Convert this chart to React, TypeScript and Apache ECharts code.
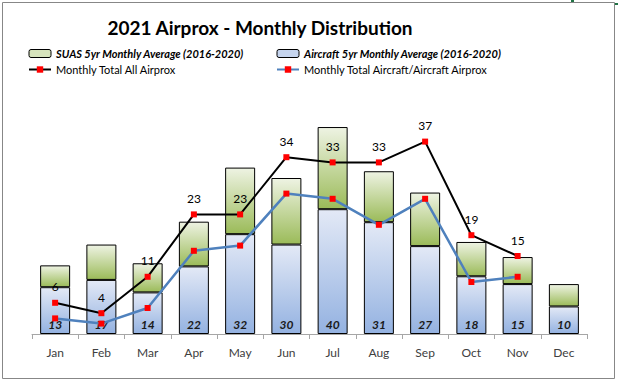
import React, { useEffect, useRef } from "react";
import * as echarts from "echarts";

const months = ["Jan", "Feb", "Mar", "Apr", "May", "Jun", "Jul", "Aug", "Sep", "Oct", "Nov", "Dec"];
const aircraftAvg = [9, 10.4, 8, 13, 19.2, 17.2, 24, 21.5, 16.9, 11.1, 9.6, 5.3];
const suasAvg = [4.2, 6.8, 5.6, 8.6, 12.8, 12.8, 15.8, 9.8, 10.3, 6.6, 5.2, 4.3];
const totalAll = [6, 4, 11, 23, 23, 34, 33, 33, 37, 19, 15, null];
const totalAircraft = [3, 2, 5, 16, 17, 27, 26, 21, 26, 10, 11, null];

const FONT = "Lato";
const SUAS_NAME = "SUAS 5yr Monthly Average (2016-2020)";
const AC_NAME = "Aircraft 5yr Monthly Average (2016-2020)";
const ALL_NAME = "Monthly Total All Airprox";
const ACAC_NAME = "Monthly Total Aircraft/Aircraft Airprox";

const greenGrad = new echarts.graphic.LinearGradient(0, 0, 0, 1, [
  { offset: 0, color: "#eef3e3" },
  { offset: 1, color: "#9bbb59" },
]);
const blueGrad = new echarts.graphic.LinearGradient(0, 0, 0, 1, [
  { offset: 0, color: "#e3e9f6" },
  { offset: 1, color: "#94b2e1" },
]);

export default function App() {
  const ref = useRef<HTMLDivElement>(null);
  useEffect(() => {
    const chart = echarts.init(ref.current!, undefined, { renderer: "svg" });
    const legendText = { fontFamily: FONT, fontSize: 11, color: "#000" };
    const barLegendText = { ...legendText, fontStyle: "italic", fontWeight: "bold" };
    chart.setOption({
      animation: false,
      textStyle: { fontFamily: FONT },
      graphic: [
        {
          type: "rect",
          shape: { x: 2.5, y: 2.5, width: 612, height: 376 },
          style: { fill: "none", stroke: "#878787", lineWidth: 1 },
          silent: true,
        },
        {
          type: "rect",
          shape: { x: 571, y: 0, width: 3, height: 2 },
          style: { fill: "#217346" },
          silent: true,
        },
        {
          type: "rect",
          shape: { x: 615, y: 3, width: 3, height: 2 },
          style: { fill: "#217346" },
          silent: true,
        },
        {
          type: "text",
          x: 260,
          y: 27,
          style: {
            text: "2021 Airprox - Monthly Distribution",
            fontFamily: FONT,
            fontWeight: "bold",
            fontSize: 19,
            fill: "#000",
            textAlign: "center",
            textVerticalAlign: "middle",
          },
        },
      ],
      legend: [
        {
          orient: "vertical",
          left: 28,
          top: 48,
          padding: 0,
          itemWidth: 22,
          itemHeight: 8,
          itemGap: 5,
          textStyle: legendText,
          data: [
            { name: SUAS_NAME, textStyle: barLegendText, itemStyle: { color: "#d7e4bd", borderColor: "#000", borderWidth: 1 } },
            { name: ALL_NAME },
          ],
        },
        {
          orient: "vertical",
          left: 276,
          top: 48,
          padding: 0,
          itemWidth: 22,
          itemHeight: 8,
          itemGap: 5,
          textStyle: legendText,
          data: [
            { name: AC_NAME, textStyle: barLegendText, itemStyle: { color: "#c6d5ef", borderColor: "#000", borderWidth: 1 } },
            { name: ACAC_NAME },
          ],
        },
      ],
      grid: { left: 32, right: 31, top: 100, bottom: 51 },
      xAxis: {
        type: "category",
        data: months,
        axisLine: { lineStyle: { color: "#a6a6a6", width: 1 } },
        axisTick: { show: true, length: 5, lineStyle: { color: "#a6a6a6" } },
        axisLabel: { fontFamily: FONT, fontSize: 12, color: "#404040", margin: 12 },
      },
      yAxis: { type: "value", min: 0, max: 45, show: false, splitLine: { show: false } },
      series: [
        {
          name: AC_NAME,
          type: "bar",
          stack: "avg",
          barWidth: 30,
          data: aircraftAvg,
          itemStyle: { color: blueGrad, borderColor: "#000", borderWidth: 1 },
          label: {
            show: true,
            position: "insideBottom",
            distance: 4,
            fontFamily: FONT,
            fontSize: 12,
            fontStyle: "italic",
            fontWeight: "bold",
            color: "#1a1a1a",
            formatter: (p: any) => String(Math.round(aircraftAvg[p.dataIndex] + suasAvg[p.dataIndex])),
          },
        },
        {
          name: SUAS_NAME,
          type: "bar",
          stack: "avg",
          barWidth: 30,
          data: suasAvg,
          itemStyle: { color: greenGrad, borderColor: "#000", borderWidth: 1 },
        },
        {
          name: ALL_NAME,
          type: "line",
          data: totalAll,
          symbol: "rect",
          symbolSize: 6,
          itemStyle: { color: "#ff0000" },
          lineStyle: { color: "#000", width: 2 },
          label: {
            show: true,
            position: "top",
            distance: 7,
            fontFamily: FONT,
            fontSize: 12,
            color: "#000",
          },
          z: 5,
        },
        {
          name: ACAC_NAME,
          type: "line",
          data: totalAircraft,
          symbol: "rect",
          symbolSize: 6,
          itemStyle: { color: "#ff0000" },
          lineStyle: { color: "#4f81bd", width: 2.5 },
          z: 4,
        },
      ],
    });
    return () => chart.dispose();
  }, []);
  return (
    <div
      ref={ref}
      style={{ position: "fixed", left: 0, top: 0, width: 618, height: 385, background: "#fff" }}
    />
  );
}
